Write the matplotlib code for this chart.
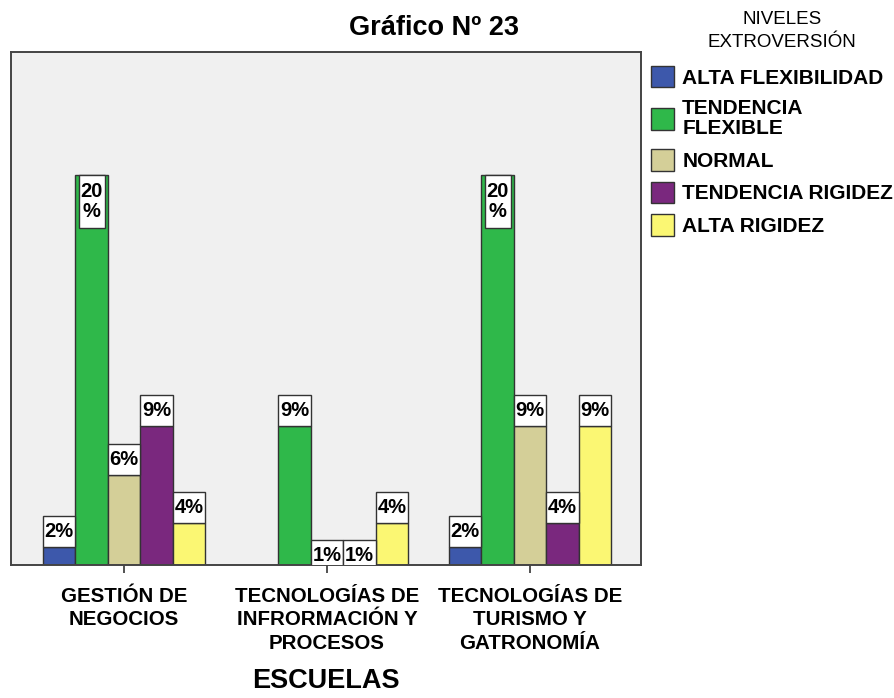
import numpy as np
import matplotlib
matplotlib.use('Agg')
import matplotlib.pyplot as plt
from matplotlib.patches import Patch, Rectangle

plt.rcParams['font.family'] = ['Liberation Sans', 'DejaVu Sans']

# escuelas (eje x)
schools = ['GESTIÓN DE\nNEGOCIOS',
           'TECNOLOGÍAS DE\nINFRORMACIÓN Y\nPROCESOS',
           'TECNOLOGÍAS DE\nTURISMO Y\nGATRONOMÍA']

# niveles de extroversión (leyenda)
levels = ['ALTA FLEXIBILIDAD', 'TENDENCIA\nFLEXIBLE', 'NORMAL',
          'TENDENCIA RIGIDEZ', 'ALTA RIGIDEZ']
colors = ['#3d58ab', '#2fb84a', '#d4cf98', '#7a287e', '#fbf773']

# altura de las barras, tal como se ven en el grafico (20 % = 20)
alta_flex = [0.91, np.nan, 0.91]
tend_flex = [20.0, 7.13, 20.0]
normal = [4.62, 0.0, 7.13]
tend_rig = [7.13, 0.0, 2.13]
alta_rig = [2.13, 2.13, 7.13]

# etiquetas de porcentaje
alta_flex_lbl = ['2%', '', '2%']
tend_flex_lbl = ['20\n%', '9%', '20\n%']
normal_lbl = ['6%', '1%', '9%']
tend_rig_lbl = ['9%', '1%', '4%']
alta_rig_lbl = ['4%', '4%', '9%']

series = [alta_flex, tend_flex, normal, tend_rig, alta_rig]
series_lbl = [alta_flex_lbl, tend_flex_lbl, normal_lbl, tend_rig_lbl,
              alta_rig_lbl]

fig = plt.figure(figsize=(8.95, 6.98), dpi=100)
ax = fig.add_axes([11 / 895, 1 - 565 / 698, 630 / 895, 513 / 698])
ax.set_facecolor('#f0f0f0')

x = np.arange(len(schools))
w = 0.16
box_h = 1.6

for j, (vals, lbls, color) in enumerate(zip(series, series_lbl, colors)):
    pos = x + (j - 2) * w
    ax.bar(pos, vals, width=w, color=color, edgecolor='#333333',
           linewidth=1, zorder=2)
    for xp, h, lbl in zip(pos, vals, lbls):
        if np.isnan(h) or lbl == '':
            continue
        if '\n' in lbl:
            # etiqueta dentro de la barra
            bw = w * 0.8
            bh = 2.72
            bottom = h - bh
        else:
            bw = w
            bh = box_h
            bottom = h if h > 0 else -0.3
        ax.add_patch(Rectangle((xp - bw / 2, bottom), bw, bh,
                               facecolor='white', edgecolor='#333333',
                               linewidth=1, zorder=3))
        ax.text(xp, bottom + bh / 2, lbl, ha='center', va='center',
                fontsize=14.5, fontweight='bold', linespacing=1.05,
                zorder=4)

ax.set_xlim(-0.5567, 2.5468)
ax.set_ylim(0, 513 / 19.5)
ax.set_yticks([])
ax.set_xticks(x)
ax.set_xticklabels(schools, fontsize=14.8, fontweight='bold',
                   linespacing=1.28)
ax.tick_params(axis='x', length=6, width=1.2, color='#333333', pad=10)
for sp in ax.spines.values():
    sp.set_color('#444444')
    sp.set_linewidth(1.4)

ax.set_xlabel('ESCUELAS', fontsize=19.5, fontweight='bold')
ax.xaxis.set_label_coords(0.5, -0.2)

fig.text(434 / 895, 1 - 28 / 698, 'Gráfico Nº 23', ha='center',
         va='center', fontsize=19.5, fontweight='bold')

fig.text(782 / 895, 1 - 31 / 698, 'NIVELES\nEXTROVERSIÓN', ha='center',
         va='center', fontsize=13.5, linespacing=1.45)

handles = [Patch(facecolor=c, edgecolor='#333333', linewidth=1)
           for c in colors]
leg = fig.legend(handles, levels, loc='upper left',
                 bbox_to_anchor=(651 / 895, 1 - 66 / 698),
                 frameon=False, borderpad=0, borderaxespad=0,
                 handlelength=1.1, handleheight=1.2, handletextpad=0.4,
                 labelspacing=0.52, prop={'size': 15, 'weight': 'bold'})
for t in leg.get_texts():
    t.set_linespacing(1.12)

fig.savefig('out.png', dpi=100)
